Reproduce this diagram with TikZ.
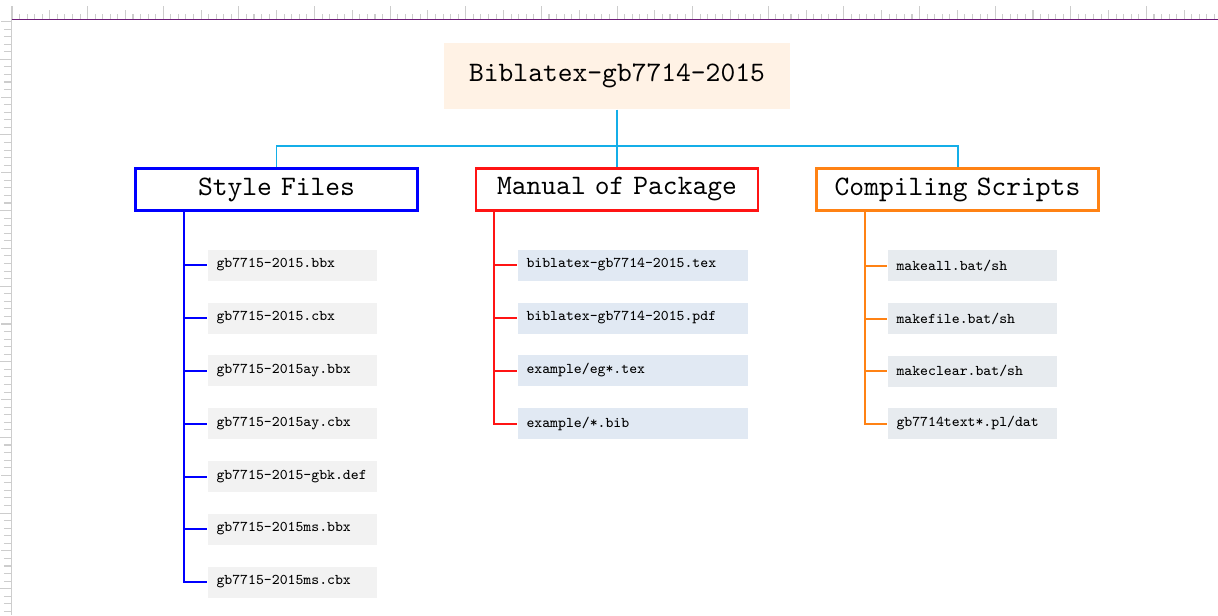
\documentclass[tikz,border=0pt]{standalone}
\begin{document}
\def\pxu{0.3763pt}
\newcommand\nsp{\hspace{-0.525em}\hspace{0.32em}}
\definecolor{titlefill}{RGB}{255,242,229}
\definecolor{busline}{RGB}{20,174,232}
\definecolor{sfcol}{RGB}{0,0,255}
\definecolor{mpcol}{RGB}{255,20,20}
\definecolor{cscol}{RGB}{255,130,20}
\definecolor{sffill}{RGB}{242,242,242}
\definecolor{mpfill}{RGB}{225,233,243}
\definecolor{csfill}{RGB}{231,235,239}
\definecolor{rulegray}{RGB}{205,205,205}
\definecolor{rulepurple}{RGB}{110,30,120}
\begin{tikzpicture}[x=0.3763pt,y=-0.3763pt,
  titlebox/.style={fill=titlefill,inner sep=0pt,minimum width=346*\pxu,minimum height=66*\pxu,font=\ttfamily\fontsize{10.6}{12}\selectfont},
  catbox/.style={draw=#1,line width=0.8pt,fill=white,inner sep=0pt,minimum width=282*\pxu,minimum height=42*\pxu,font=\ttfamily\fontsize{10.6}{12}\selectfont},
  itembox/.style args={#1/#2}{fill=#1,anchor=west,inner xsep=9*\pxu,inner ysep=0pt,text width=#2*\pxu-18*\pxu,minimum height=31*\pxu,align=left,font=\ttfamily\fontsize{5.6}{7}\selectfont},
  conn/.style={line width=0.75pt,draw=#1},
  rulertick/.style={draw=rulegray,line width=0.4pt}]
\useasboundingbox (0,0) rectangle (1218,615);
% ruler
\foreach \i in {0,...,159} \draw[rulertick] ({12+\i*7.563},14) -- ({12+\i*7.563},19.5);
\foreach \i in {0,5,...,155} \draw[rulertick] ({12+\i*7.563},10) -- ({12+\i*7.563},19.5);
\foreach \i in {0,10,...,150} \draw[rulertick] ({12+\i*7.563},6) -- ({12+\i*7.563},19.5);
\foreach \k in {-5,...,73} \draw[rulertick] (4,{59.3+\k*7.563}) -- (11.7,{59.3+\k*7.563});
\foreach \k in {-5,0,...,70} \draw[rulertick] (1,{59.3+\k*7.563}) -- (11.7,{59.3+\k*7.563});
\foreach \k in {0,10,...,70} \draw[rulertick] (0,{59.3+\k*7.563}) -- (11.7,{59.3+\k*7.563});
\draw[draw=rulegray,line width=0.4pt] (11.7,19.5) -- (11.7,615);
\draw[draw=rulepurple,line width=0.5pt] (11.7,19.5) -- (1218,19.5);
% title
\node[titlebox] (t) at (617,76) {Biblatex-gb7714-2015};
% categories
\node[catbox=sfcol] (sf) at (276.5,189.5) {Style\nsp{} Files};
\node[catbox=mpcol] (mp) at (617,189.5) {Manual\nsp{} of\nsp{} Package};
\node[catbox=cscol] (cs) at (957.5,189.5) {Compiling\nsp{} Scripts};
\coordinate (bus) at (617,146);
\draw[conn=busline] (t.south) -- (mp.north);
\draw[conn=busline] (sf.north) |- (bus) -| (cs.north);
% style files items
\node[itembox=sffill/169] (s1) at (207,265) {gb7715-2015.bbx};
\node[itembox=sffill/169] (s2) at (207,318) {gb7715-2015.cbx};
\node[itembox=sffill/169] (s3) at (207,370.5) {gb7715-2015ay.bbx};
\node[itembox=sffill/169] (s4) at (207,423.5) {gb7715-2015ay.cbx};
\node[itembox=sffill/169] (s5) at (207,476.5) {gb7715-2015-gbk.def};
\node[itembox=sffill/169] (s6) at (207,529) {gb7715-2015ms.bbx};
\node[itembox=sffill/169] (s7) at (207,582) {gb7715-2015ms.cbx};
\coordinate (sfs) at (184,211);
\foreach \n in {1,...,7} \draw[conn=sfcol] (sfs) |- (s\n.west);
% manual items
\node[itembox=mpfill/230] (m1) at (517,265) {biblatex-gb7714-2015.tex};
\node[itembox=mpfill/230] (m2) at (517,318) {biblatex-gb7714-2015.pdf};
\node[itembox=mpfill/230] (m3) at (517,370.5) {example/eg*.tex};
\node[itembox=mpfill/230] (m4) at (517,423.5) {example/*.bib};
\coordinate (mps) at (494,211);
\foreach \n in {1,...,4} \draw[conn=mpcol] (mps) |- (m\n.west);
% compiling items
\node[itembox=csfill/169] (c1) at (887,265.5) {makeall.bat/sh};
\node[itembox=csfill/169] (c2) at (887,318.5) {makefile.bat/sh};
\node[itembox=csfill/169] (c3) at (887,371) {makeclear.bat/sh};
\node[itembox=csfill/169] (c4) at (887,423.5) {gb7714text*.pl/dat};
\coordinate (css) at (864.5,211);
\foreach \n in {1,...,4} \draw[conn=cscol] (css) |- (c\n.west);
\end{tikzpicture}
\end{document}
